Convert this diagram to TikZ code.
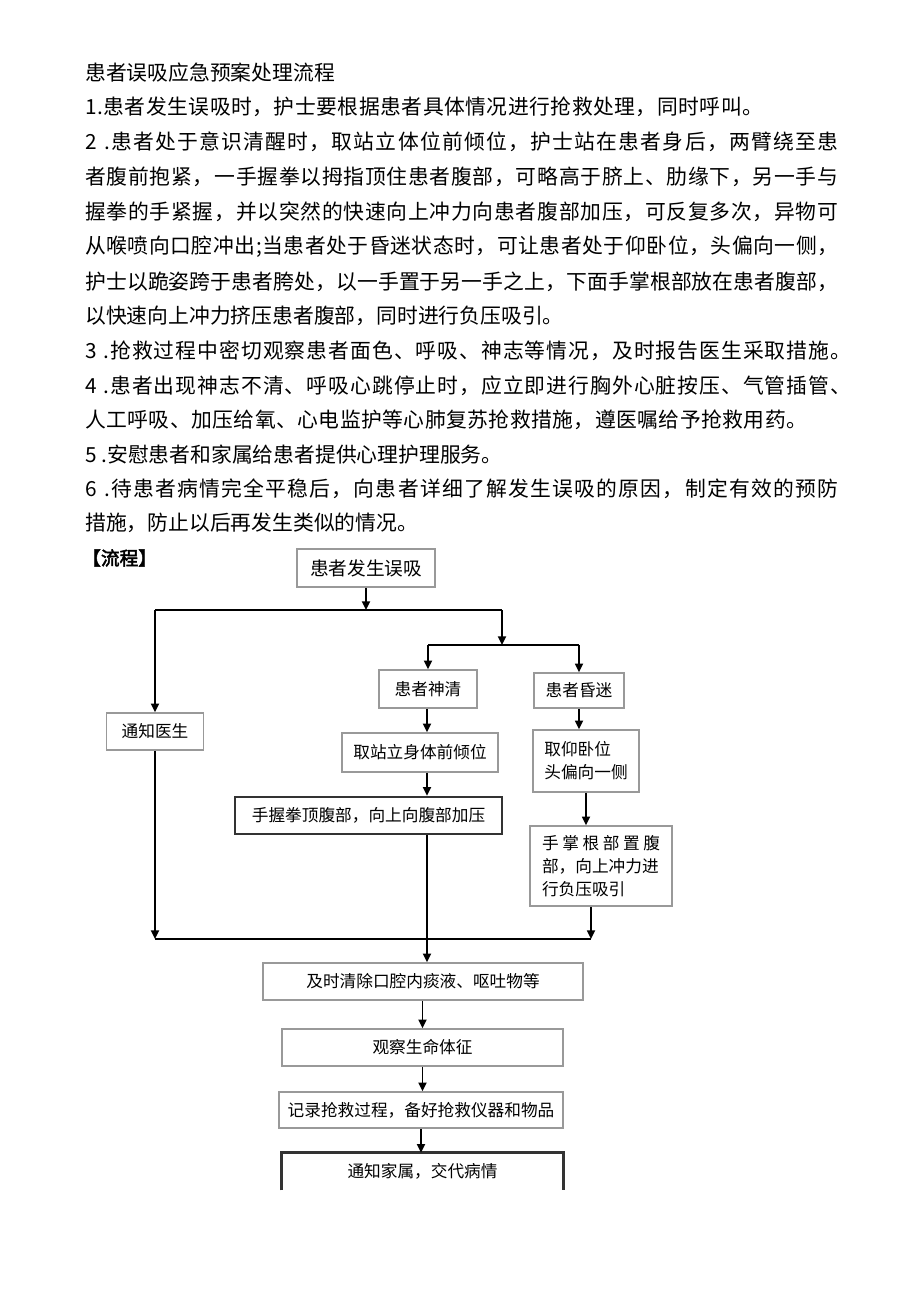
\documentclass[tikz,border=0pt]{standalone}
\usepackage{fontspec}
\newfontfamily\cjk{Noto Sans CJK SC}
\newfontfamily\cjkb[FakeBold=2.5]{Noto Sans CJK SC}
\usetikzlibrary{arrows.meta}
\newdimen\pxunit \pxunit=0.75pt
% spread the characters of a line over a given width
\def\spreadit#1#2\relax{#1\ifx\relax#2\relax\else\hfil\spreadit#2\relax\fi}
\newcommand\jline[2]{\hbox to #1\pxunit{\spreadit#2\relax}}
\begin{document}
\begin{tikzpicture}[x=0.75pt,y=-0.75pt,font=\cjk,
  txt/.style={anchor=west,inner sep=0,font=\cjk\fontsize{15.6}{20}\selectfont},
  box/.style={draw=black!40,line width=1.2pt,inner sep=0,font=\cjk\fontsize{12.5}{17.4}\selectfont},
  boldbox/.style={box,draw=black!80,line width=2pt},
  wh/.style 2 args={minimum width=#1\pxunit,minimum height=#2\pxunit},
  arr/.style={-{Triangle[length=6.5pt,width=6pt]},line width=1.3pt},
  ln/.style={line width=1.3pt}]
\useasboundingbox (0,0) rectangle (920,1301);

\node[txt] (t0) at (85,73) {患者误吸应急预案处理流程};
\node[txt] (t1) at (85,107) {\jline{678}{1.患者发生误吸时，护士要根据患者具体情况进行抢救处理，同时呼叫。}};
\node[txt] (t2a) at (85,142) {\jline{753}{2\ .患者处于意识清醒时，取站立体位前倾位，护士站在患者身后，两臂绕至患}};
\node[txt] (t2b) at (85,177) {\jline{753}{者腹前抱紧，一手握拳以拇指顶住患者腹部，可略高于脐上、肋缘下，另一手与}};
\node[txt] (t2c) at (85,212) {\jline{753}{握拳的手紧握，并以突然的快速向上冲力向患者腹部加压，可反复多次，异物可}};
\node[txt] (t2d) at (85,247) {\jline{753}{从喉喷向口腔冲出;当患者处于昏迷状态时，可让患者处于仰卧位，头偏向一侧，}};
\node[txt] (t2e) at (85,282) {\jline{753}{护士以跪姿跨于患者胯处，以一手置于另一手之上，下面手掌根部放在患者腹部，}};
\node[txt] (t2f) at (85,316) {以快速向上冲力挤压患者腹部，同时进行负压吸引。};
\node[txt] (t3) at (85,351) {\jline{766}{3\ .抢救过程中密切观察患者面色、呼吸、神志等情况，及时报告医生采取措施。}};
\node[txt] (t4a) at (85,386) {\jline{766}{4\ .患者出现神志不清、呼吸心跳停止时，应立即进行胸外心脏按压、气管插管、}};
\node[txt] (t4b) at (85,420) {\jline{722}{人工呼吸、加压给氧、心电监护等心肺复苏抢救措施，遵医嘱给予抢救用药。}};
\node[txt] (t5) at (85,455) {5 .安慰患者和家属给患者提供心理护理服务。};
\node[txt] (t6a) at (85,489) {\jline{753}{6\ .待患者病情完全平稳后，向患者详细了解发生误吸的原因，制定有效的预防}};
\node[txt] (t6b) at (85,523) {措施，防止以后再发生类似的情况。};

\node[anchor=west,inner sep=0,font=\cjkb\fontsize{14}{16}\selectfont] (flow) at (82,558) {【流程】};

\node[box,wh={138}{38},font=\cjk\fontsize{14}{17}\selectfont] (start) at (366,568) {患者发生误吸};
\node[box,wh={97}{37}] (notify) at (155,731.5) {通知医生};
\node[box,wh={98}{38}] (clear) at (428,689) {患者神清};
\node[box,wh={90}{35}] (coma) at (579,690.5) {患者昏迷};
\node[box,wh={156}{39}] (stand) at (420,752.5) {取站立身体前倾位};
\node[box,wh={106}{62},align=left] (supine) at (586,761) {取仰卧位\\头偏向一侧};
\node[boldbox,wh={267}{37}] (fist) at (368.5,815.5) {手握拳顶腹部，向上向腹部加压};
\node[box,wh={142}{80},align=left] (palm) at (601,866) {\makebox[118\pxunit][s]{手 掌 根 部 置 腹}\\部，向上冲力进\\行负压吸引};
\node[box,wh={320}{37}] (clean) at (423,981.5) {及时清除口腔内痰液、呕吐物等};
\node[box,wh={281}{37}] (observe) at (422.5,1047.5) {观察生命体征};
\node[box,wh={284}{36}] (record) at (421,1110) {记录抢救过程，备好抢救仪器和物品};
\node[inner sep=0,wh={281}{37},font=\cjk\fontsize{12.5}{17}\selectfont] (family) at (422.5,1171.5) {通知家属，交代病情};
\draw[draw=black!80,line width=2pt] (family.south west) -- (family.north west) -- (family.north east) -- (family.south east);

\coordinate (r1) at (0,610);
\coordinate (r2) at (0,645);
\coordinate (r3) at (0,939);
\coordinate (rgt) at (502,0);
\coordinate (spine) at (427,0);
\coordinate (pout) at (591,0);

\draw[arr] (start) -- (start |- r1);
\draw[ln] (notify |- r1) -- (rgt |- r1);
\draw[arr] (notify |- r1) -- (notify);
\draw[arr] (rgt |- r1) -- (rgt |- r2);
\draw[ln] (clear |- r2) -- (coma |- r2);
\draw[arr] (clear |- r2) -- (clear);
\draw[arr] (coma |- r2) -- (coma);
\draw[arr] (spine |- clear.south) -- (spine |- stand.north);
\draw[arr] (spine |- stand.south) -- (spine |- fist.north);
\draw[arr] (coma) -- (coma |- supine.north);
\draw[arr] (supine) -- (supine |- palm.north);
\draw[arr] (notify) -- (notify |- r3);
\draw[arr] (pout |- palm.south) -- (pout |- r3);
\draw[ln] (notify |- r3) -- (pout |- r3);
\draw[arr] (spine |- fist.south) -- (spine |- clean.north);
\draw[arr] (observe |- clean.south) -- (observe);
\draw[arr] (observe) -- (observe |- record.north);
\draw[arr] (record) -- (record |- family.north);
\end{tikzpicture}
\end{document}
